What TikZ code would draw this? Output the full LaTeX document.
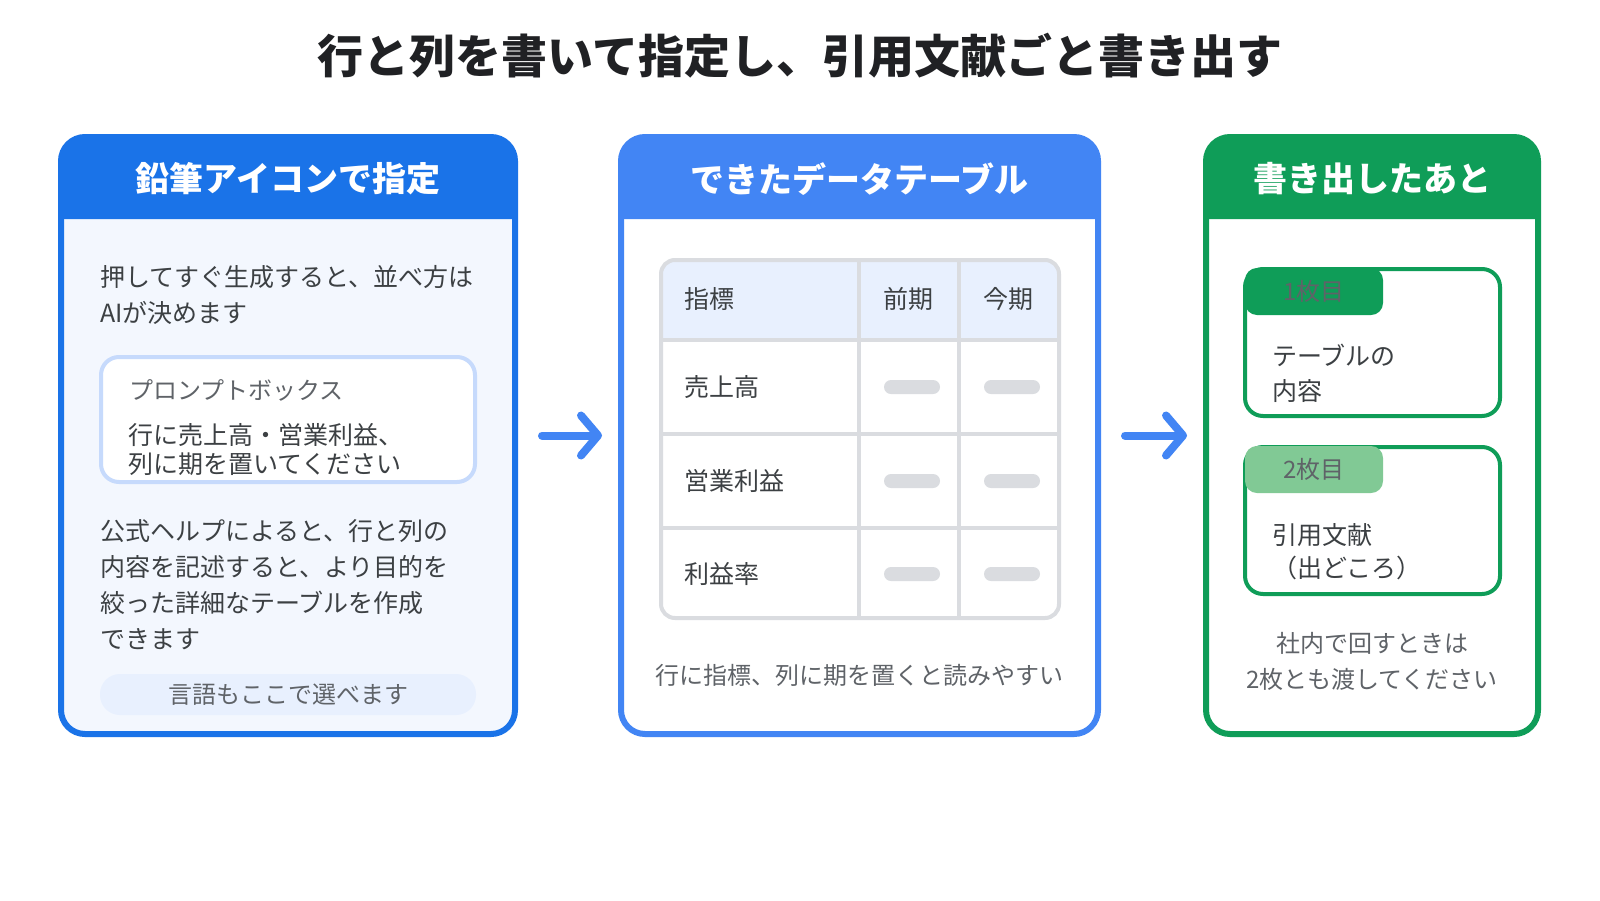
\documentclass[tikz,border=0pt]{standalone}
\usepackage{fontspec}
\setmainfont{Noto Sans CJK JP}
\usetikzlibrary{arrows.meta}
\definecolor{blueA}{HTML}{1A73E8}
\definecolor{blueB}{HTML}{4285F4}
\definecolor{greenC}{HTML}{0F9D58}
\definecolor{greenL}{HTML}{81C995}
\definecolor{pfill}{HTML}{F3F7FE}
\definecolor{pborder}{HTML}{C6DAFC}
\definecolor{pillfill}{HTML}{E8F0FE}
\definecolor{tgrid}{HTML}{DADCE0}
\definecolor{thead}{HTML}{E8F0FE}
\definecolor{textdark}{HTML}{3C4043}
\definecolor{textgray}{HTML}{5F6368}
\definecolor{titlec}{HTML}{202124}
\tikzset{
  panel/.style={draw=#1, line width=6, rounded corners=24, inner sep=0, outer sep=0},
  hdr/.style={text=white, font=\bfseries\fontsize{34}{40}\selectfont, inner sep=0},
  txt/.style={inner sep=0, outer sep=0, anchor=north west, align=left, text=textdark, font=\fontsize{24}{36}\selectfont},
  ptxt/.style={txt, font=\fontsize{25}{36}\selectfont},
  ctxt/.style={inner sep=0, text=textdark, font=\fontsize{25}{36}\selectfont},
  gtxt/.style={inner sep=0, align=center, text=textgray, font=\fontsize{24}{36}\selectfont},
  arr/.style={draw=blueB, line width=8, line cap=round, -{Straight Barb[length=17pt, width=40pt, round]}},
  barpill/.style={fill=tgrid, rounded corners=7, minimum width=56, minimum height=14, inner sep=0},
  card/.style={draw=greenC, line width=4, fill=white, rounded corners=18, minimum width=255, minimum height=147, inner sep=0, outer sep=0},
  tabbox/.style={rounded corners=12, minimum width=138, minimum height=47, inner sep=0, text=textgray, font=\fontsize{24}{30}\selectfont},
}
\begin{document}
\begin{tikzpicture}[x=1pt, y=-1pt]
\useasboundingbox[fill=white] (0,0) rectangle (1600,900);
% title
\node[inner sep=0, text=titlec, font=\bfseries\fontsize{46}{54}\selectfont] (title) at (800,56) {行と列を書いて指定し、引用文献ごと書き出す};
% panels
\node[panel=blueA, fill=pfill, minimum width=454, minimum height=597] (p1) at (288,435.5) {};
\node[panel=blueB, fill=white, minimum width=477, minimum height=597] (p2) at (859.5,435.5) {};
\node[panel=greenC, fill=white, minimum width=332, minimum height=597] (p3) at (1372,435.5) {};
\fill[blueA] ([yshift=-82pt]p1.north west) [rounded corners=24] -- (p1.north west) -- (p1.north east) [sharp corners] -- ([yshift=-82pt]p1.north east) -- cycle;
\fill[blueB] ([yshift=-82pt]p2.north west) [rounded corners=24] -- (p2.north west) -- (p2.north east) [sharp corners] -- ([yshift=-82pt]p2.north east) -- cycle;
\fill[greenC] ([yshift=-82pt]p3.north west) [rounded corners=24] -- (p3.north west) -- (p3.north east) [sharp corners] -- ([yshift=-82pt]p3.north east) -- cycle;
\node[hdr] (h1) at (288,179) {鉛筆アイコンで指定};
\node[hdr] (h2) at (859.5,179) {できたデータテーブル};
\node[hdr] (h3) at (1372,179) {書き出したあと};
% arrows
\draw[arr, shorten <=27pt, shorten >=19pt] (p1.east) -- (p2.west);
\draw[arr, shorten <=27pt, shorten >=19pt] (p2.east) -- (p3.west);
% panel 1
\node[ptxt] (t1) at (100,265.5) {押してすぐ生成すると、並べ方は\\AIが決めます};
\node[draw=pborder, line width=4, fill=white, rounded corners=18, minimum width=374, minimum height=125, inner sep=0] (pb) at (288,419.5) {};
\node[txt, text=textgray, font=\fontsize{24}{29}\selectfont] (pbl) at (129,379.5) {プロンプトボックス};
\node[txt, font=\fontsize{25}{29}\selectfont] (pbt) at (128,423.5) {行に売上高・営業利益、\\列に期を置いてください};
\node[ptxt] (t2) at (100,519.5) {公式ヘルプによると、行と列の\\内容を記述すると、より目的を\\絞った詳細なテーブルを作成\\できます};
\node[gtxt, fill=pillfill, rounded corners=20, minimum width=376, minimum height=41] (lang) at (288,694.5) {言語もここで選べます};
% panel 2 table
\fill[thead] (661,340) [rounded corners=14] -- (661,260) -- (1059,260) [sharp corners] -- (1059,340) -- cycle;
\draw[tgrid, line width=4, rounded corners=14] (661,260) rectangle (1059,618);
\draw[tgrid, line width=4] (661,340) -- (1059,340) (661,434) -- (1059,434) (661,528) -- (1059,528)
  (859,260) -- (859,618) (959,260) -- (959,618);
\node[ctxt, anchor=west] (c0) at (684,299) {指標};
\node[ctxt] (c1) at (908,299) {前期};
\node[ctxt] (c2) at (1008,299) {今期};
\node[ctxt, anchor=west] (r1) at (684,387) {売上高};
\node[ctxt, anchor=west] (r2) at (684,481) {営業利益};
\node[ctxt, anchor=west] (r3) at (684,574) {利益率};
\node[barpill] (b11) at (912,387) {};
\node[barpill] (b12) at (1012,387) {};
\node[barpill] (b21) at (912,481) {};
\node[barpill] (b22) at (1012,481) {};
\node[barpill] (b31) at (912,574) {};
\node[barpill] (b32) at (1012,574) {};
\node[gtxt] (cap2) at (859.5,675) {行に指標、列に期を置くと読みやすい};
% panel 3
\node[card] (k1) at (1372.5,342.5) {};
\node[tabbox, fill=greenC] (tab1) at (1314,291.5) {1枚目};
\node[txt, font=\fontsize{25}{35}\selectfont] (k1t) at (1272,344.5) {テーブルの\\内容};
\node[card] (k2) at (1372.5,520.5) {};
\node[tabbox, fill=greenL] (tab2) at (1314,469.5) {2枚目};
\node[txt, font=\fontsize{25}{33}\selectfont] (k2t) at (1272,523.5) {引用文献\\（出どころ）};
\node[gtxt] (cap3) at (1372,661) {社内で回すときは\\2枚とも渡してください};
\end{tikzpicture}
\end{document}
